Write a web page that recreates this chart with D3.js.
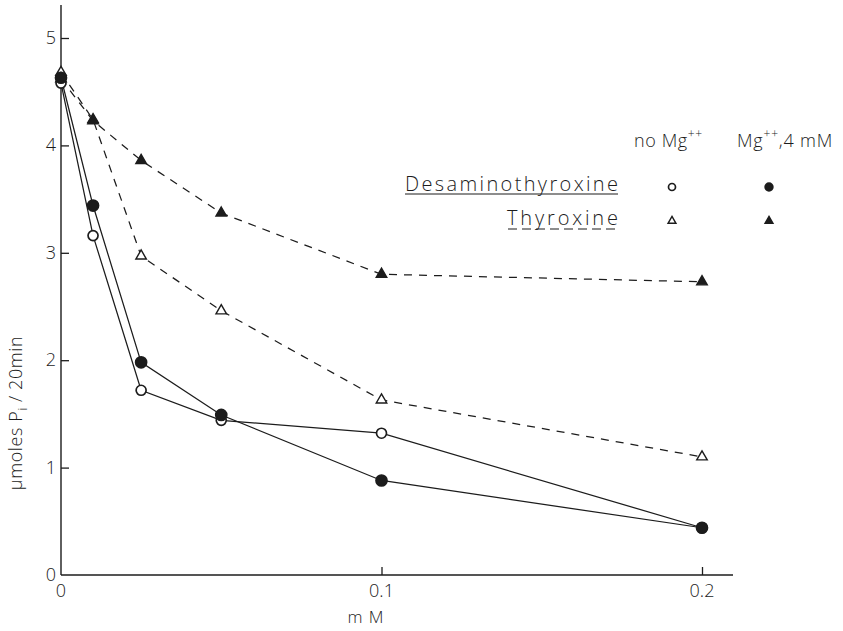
<!DOCTYPE html>
<html>
<head>
<meta charset="utf-8">
<script src="https://cdn.jsdelivr.net/npm/d3@7"></script>
<style>
  html, body { margin: 0; padding: 0; background: #fff; }
  svg { display: block; }
  text { font-family: "Open Sans", "DejaVu Sans", sans-serif; font-weight: 300; fill: #1c1c1c; }
</style>
</head>
<body>
<svg id="chart" width="843" height="631"></svg>
<script>
// Inorganic phosphate released vs. inhibitor concentration (mM)
const concentrations = [0, 0.01, 0.025, 0.05, 0.1, 0.2];
const desaminoNoMg   = [4.58, 3.16, 1.72, 1.44, 1.32, 0.44];
const desaminoMg     = [4.63, 3.44, 1.98, 1.49, 0.88, 0.44];
const thyroxineNoMg  = [4.68, 4.24, 2.97, 2.46, 1.63, 1.10];
const thyroxineMg    = [4.62, 4.23, 3.86, 3.37, 2.80, 2.73];
const yTickValues = [0, 1, 2, 3, 4, 5];
const xTickValues = [0, 0.1, 0.2];
const xTickLabels = ["0", "0.1", "0.2"];

const ink = "#1c1c1c";
const svg = d3.select("#chart");

const x = d3.scaleLinear().domain([0, 0.2]).range([61, 702]);
const y = d3.scaleLinear().domain([0, 5]).range([575, 38]);

// Axes: plain lines with short inward ticks
svg.append("line").attr("x1", x(0)).attr("x2", 733).attr("y1", y(0)).attr("y2", y(0))
  .attr("stroke", ink).attr("stroke-width", 1.4);
svg.append("line").attr("x1", x(0)).attr("x2", x(0)).attr("y1", 5).attr("y2", y(0))
  .attr("stroke", ink).attr("stroke-width", 1.4);

const yAxis = d3.axisRight(y).tickValues(yTickValues.filter(d => d > 0)).tickSize(8).tickFormat("");
const yg = svg.append("g").attr("transform", `translate(${x(0)},0)`).call(yAxis);
yg.select(".domain").remove();
yg.selectAll(".tick line").attr("stroke", ink).attr("stroke-width", 1.3);

const xAxis = d3.axisTop(x).tickValues(xTickValues.filter(d => d > 0)).tickSize(8).tickFormat("");
const xg = svg.append("g").attr("transform", `translate(0,${y(0)})`).call(xAxis);
xg.select(".domain").remove();
xg.selectAll(".tick line").attr("stroke", ink).attr("stroke-width", 1.3);

// Tick labels
svg.append("g").selectAll("text").data(yTickValues).join("text")
  .attr("x", 56).attr("y", d => y(d) + 6)
  .attr("text-anchor", "end").attr("font-size", 18)
  .text(d => d);
svg.append("g").selectAll("text").data(xTickValues).join("text")
  .attr("x", d => x(d)).attr("y", 597)
  .attr("text-anchor", "middle").attr("font-size", 18)
  .text((d, i) => xTickLabels[i]);

// Axis titles
svg.append("text").attr("x", 366).attr("y", 623).attr("text-anchor", "middle")
  .attr("font-size", 17).attr("letter-spacing", 1).text("m M");
const yTitle = svg.append("text").attr("transform", "translate(22,413) rotate(-90)")
  .attr("text-anchor", "middle").attr("font-size", 18).attr("letter-spacing", 0.6);
yTitle.append("tspan").text("µmoles P");
yTitle.append("tspan").attr("font-size", 12).attr("dy", 5).text("i");
yTitle.append("tspan").attr("dy", -5).text(" / 20min");

// Series
const series = [
  { values: thyroxineNoMg, dash: "8,7", marker: "triangle", filled: false },
  { values: thyroxineMg,   dash: "8,7", marker: "triangle", filled: true },
  { values: desaminoNoMg,  dash: null,  marker: "circle",   filled: false },
  { values: desaminoMg,    dash: null,  marker: "circle",   filled: true }
];

const line = d3.line().x((d, i) => x(concentrations[i])).y(d => y(d));

series.forEach(s => {
  svg.append("path").datum(s.values)
    .attr("d", line)
    .attr("fill", "none").attr("stroke", ink)
    .attr("stroke-width", 1.25)
    .attr("stroke-dasharray", s.dash);
});

const triangle = d3.symbol().type(d3.symbolTriangle);

function drawMarker(g, kind, filled, cx, cy, scale) {
  if (kind === "circle") {
    g.append("circle").attr("cx", cx).attr("cy", cy).attr("r", (filled ? 5.5 : 5) * scale)
      .attr("fill", filled ? ink : "#fff").attr("stroke", ink).attr("stroke-width", 1.7);
  } else {
    g.append("path").attr("d", triangle.size(48 * scale * scale)())
      .attr("transform", `translate(${cx},${cy})`)
      .attr("fill", filled ? ink : "#fff").attr("stroke", ink).attr("stroke-width", 1.4);
  }
}

series.forEach(s => {
  const g = svg.append("g");
  s.values.forEach((v, i) => drawMarker(g, s.marker, s.filled, x(concentrations[i]), y(v), 1));
});

// Legend
const lg = svg.append("g");
const hdr = lg.append("text").attr("x", 634).attr("y", 147).attr("font-size", 18).attr("letter-spacing", 0.6);
hdr.append("tspan").text("no Mg");
hdr.append("tspan").attr("font-size", 12).attr("dy", -9).text("++");
const hdr2 = lg.append("text").attr("x", 737).attr("y", 147).attr("font-size", 18).attr("letter-spacing", 0.8);
hdr2.append("tspan").text("Mg");
hdr2.append("tspan").attr("font-size", 12).attr("dy", -9).text("++");
hdr2.append("tspan").attr("dy", 9).text(",4 mM");

lg.append("text").attr("x", 405).attr("y", 191)
  .attr("font-size", 20).attr("textLength", 213).attr("lengthAdjust", "spacing")
  .text("Desaminothyroxine");
lg.append("line").attr("x1", 405).attr("x2", 618).attr("y1", 194).attr("y2", 194)
  .attr("stroke", ink).attr("stroke-width", 1.2);
lg.append("text").attr("x", 507).attr("y", 225)
  .attr("font-size", 20).attr("textLength", 111).attr("lengthAdjust", "spacing")
  .text("Thyroxine");
lg.append("line").attr("x1", 508).attr("x2", 618).attr("y1", 229).attr("y2", 229)
  .attr("stroke", ink).attr("stroke-width", 1.2).attr("stroke-dasharray", "9,5");

drawMarker(lg, "circle", false, 672, 187, 0.7);
drawMarker(lg, "circle", true, 769, 187, 0.7);
drawMarker(lg, "triangle", false, 672, 221, 0.75);
drawMarker(lg, "triangle", true, 769, 221, 0.75);
</script>
</body>
</html>
